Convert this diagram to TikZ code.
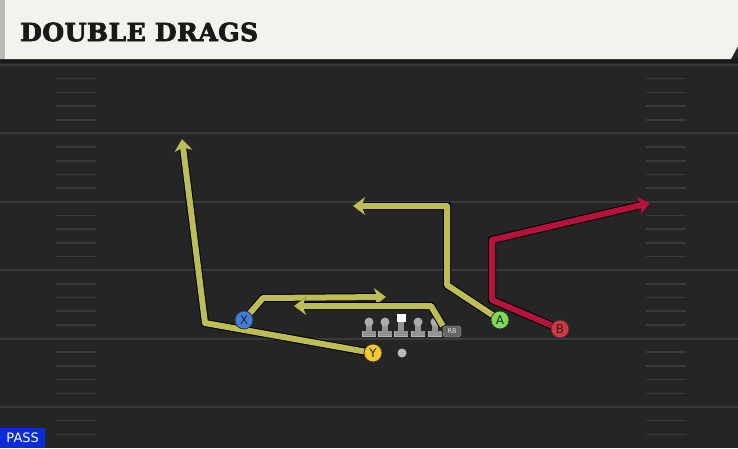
\documentclass[tikz,border=0pt]{standalone}
\usepackage{fontspec}
\usetikzlibrary{arrows.meta,calc,positioning}
\newfontfamily\titlefont{DejaVu Serif}[BoldFeatures={FakeBold=3}, LetterSpace=2]
\newfontfamily\labelfont{DejaVu Sans}

\definecolor{fieldgray}{HTML}{252525}
\definecolor{yardline}{HTML}{3A3A3A}
\definecolor{paper}{HTML}{F4F2EC}
\definecolor{routeyel}{HTML}{BDBC55}
\definecolor{routered}{HTML}{B5133B}
\definecolor{xblue}{HTML}{3F7FDB}
\definecolor{yyellow}{HTML}{F2C82E}
\definecolor{agreen}{HTML}{7ED957}
\definecolor{bred}{HTML}{D8343F}
\definecolor{passblue}{HTML}{0B2BDB}

\tikzset{
  player/.style={circle, draw=black!80, line width=0.8pt, minimum size=18pt, inner sep=0pt,
    font=\labelfont\fontsize{12}{12}\selectfont, text=black!85},
  route/.style={line width=6pt, draw=routeyel, line join=round,
    -{Stealth[length=12pt,width=18pt,inset=3.5pt]},
    preaction={draw=black, line width=8pt}},
  redroute/.style={route, draw=routered},
  hash/.style={yardline, line width=1.6pt},
}

\newcommand{\lineman}[2]{%
  \fill[gray!60] (#1-7,331) rectangle (#1+7,336.5);
  \fill[gray!85!white] (#1-6.5,331) rectangle (#1+6.5,335.5);
  \fill[gray!85!white] (#1-3,#2) rectangle (#1+3,331);
}

\begin{document}
\begin{tikzpicture}[x=1pt,y=-1pt]

  % Field
  \fill[fieldgray] (0,0) rectangle (738,448);
  \useasboundingbox (0,0) rectangle (738,448);

  % Yard lines and hash marks
  \foreach \i in {0,...,5} {
    \draw[yardline, line width=2pt] (0,65+68.4*\i) -- (738,65+68.4*\i);
    \foreach \j in {1,...,4} {
      \pgfmathsetmacro{\yy}{65+68.4*\i+13.68*\j}
      \ifdim\yy pt<448pt
        \draw[hash] (56,\yy) -- (96,\yy);
        \draw[hash] (646,\yy) -- (686,\yy);
      \fi
    }
  }

  % Title bar
  \fill[black!90] (0,58) rectangle (738,63);
  \fill[paper] (0,0) -- (738,0) -- (738,46) -- (731,59) -- (0,59) -- cycle;
  \fill[gray!55] (0,0) rectangle (5,59);
  \node[anchor=west, inner sep=0pt, text=black!90] (title) at (20,32)
    {\titlefont\bfseries\fontsize{25}{25}\selectfont DOUBLE DRAGS};

  % Play type tag
  \node[fill=passblue, anchor=south west, minimum width=45pt, minimum height=20pt,
    inner sep=0pt, text=white] (pass) at (0,448)
    {\labelfont\fontsize{13}{13}\selectfont PASS};

  % Offensive line
  \foreach \x in {369,385,418,435} {
    \lineman{\x}{323}
    \fill[gray!65] (\x,322) circle (4.5pt);
  }
  \lineman{401}{321}
  \fill[white] (396.5,313.5) rectangle (405.5,322);
  \node[fill=black!60, draw=gray!70, rounded corners=3pt, minimum width=18pt,
    minimum height=11pt, inner sep=0pt, text=gray!25,
    font=\labelfont\fontsize{6.5}{6.5}\selectfont] (RB) at (452,331.5) {RB};
  \node[circle, fill=gray!55, minimum size=9pt, inner sep=0pt] (QB) at (402,353) {};

  % Route ends
  \coordinate (yend) at (182,139);
  \coordinate (xend) at (386,297);
  \coordinate (rbend) at (294,306);
  \coordinate (aend) at (353,206);
  \coordinate (bend) at (650,203);

  % Routes
  \draw[route] (373,353) -- (205,323) -- (yend);
  \draw[route] (244,320) -- (263,298) -- (xend);
  \draw[route] (RB.north west) -- (431,306) -- (rbend);
  \draw[route] (500,320) -- (447,285) -- (447,206) -- (aend);
  \draw[redroute] (560,329) -- (492,300) -- (492,240) -- (bend);

  % Players
  \node[player, fill=xblue] (X) at (244,320) {X};
  \node[player, fill=yyellow] (Y) at (373,353) {Y};
  \node[player, fill=agreen] (A) at (500,320) {A};
  \node[player, fill=bred] (B) at (560,329) {B};

\end{tikzpicture}
\end{document}
